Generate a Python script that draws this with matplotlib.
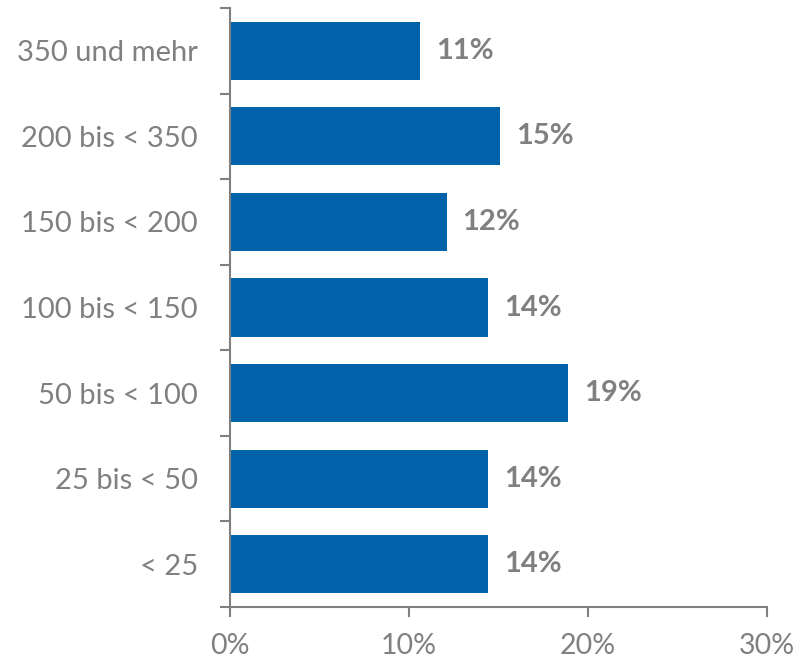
import matplotlib
matplotlib.use("Agg")
import matplotlib.pyplot as plt
from matplotlib.ticker import FuncFormatter, FixedLocator

categories = ["< 25", "25 bis < 50", "50 bis < 100", "100 bis < 150",
              "150 bis < 200", "200 bis < 350", "350 und mehr"]
values = [14.4, 14.4, 18.9, 14.4, 12.1, 15.1, 10.6]
labels = ["14%", "14%", "19%", "14%", "12%", "15%", "11%"]
x_ticks = [0, 10, 20, 30]

plt.rcParams['font.family'] = ['Lato', 'DejaVu Sans']
grey = "#808080"
blue = "#0062A9"

fig = plt.figure(figsize=(7.96, 6.64), dpi=100)
ax = fig.add_axes([230/796, 1-607/664, (767-230)/796, (607-8)/664])

y = list(range(len(categories)))
ax.barh(y, values, height=0.68, color=blue)
for yi, v, lab in zip(y, values, labels):
    ax.annotate(lab, (v, yi), xytext=(11.5, 0), textcoords="offset points",
                va="center", ha="left", fontsize=21, fontweight="bold", color=grey)

ax.set_xlim(0, 30)
ax.set_ylim(-0.5, len(categories) - 0.5)
ax.set_xticks(x_ticks)
ax.xaxis.set_major_formatter(FuncFormatter(lambda v, p: f"{int(v)}%"))
ax.set_yticks(y)
ax.set_yticklabels(categories)
ax.yaxis.set_minor_locator(FixedLocator([i - 0.5 for i in range(len(categories) + 1)]))
ax.tick_params(axis="y", which="major", length=0, pad=23, labelsize=21, labelcolor=grey)
ax.tick_params(axis="y", which="minor", length=7, width=1.5, color=grey)
ax.tick_params(axis="x", length=7, width=1.5, color=grey, labelsize=20.5, labelcolor=grey, pad=12)

for s in ["top", "right"]:
    ax.spines[s].set_visible(False)
for s in ["left", "bottom"]:
    ax.spines[s].set_color(grey)
    ax.spines[s].set_linewidth(1.5)

fig.savefig("out.png", dpi=100)
